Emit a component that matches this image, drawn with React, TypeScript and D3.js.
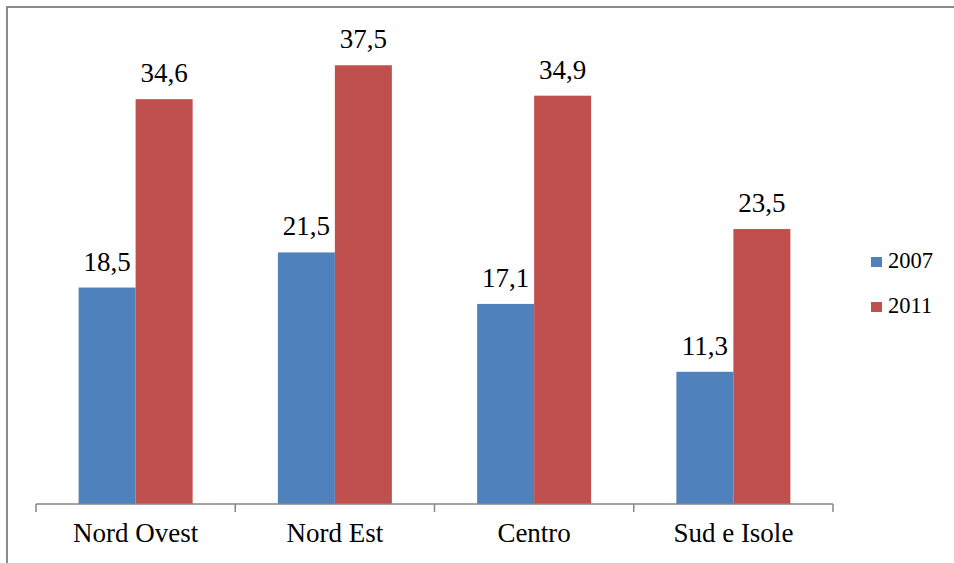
import React from 'react';
import * as d3 from 'd3';

const categories = ['Nord Ovest', 'Nord Est', 'Centro', 'Sud e Isole'];
const seriesNames = ['2007', '2011'];
const values2007 = [18.5, 21.5, 17.1, 11.3];
const values2011 = [34.6, 37.5, 34.9, 23.5];
const colors = ['#4F81BD', '#C0504D'];

const W = 954;
const H = 563;
const FONT = 'Liberation Serif';

const App: React.FC = () => {
  const plot = { left: 36, right: 833, top: 36, bottom: 504 };

  const x = d3.scaleBand<string>()
    .domain(categories)
    .range([plot.left, plot.right])
    .paddingInner(0)
    .paddingOuter(0);

  const barW = 57;
  const x1 = d3.scaleBand<string>()
    .domain(seriesNames)
    .range([x.bandwidth() / 2 - barW, x.bandwidth() / 2 + barW]);

  const y = d3.scaleLinear().domain([0, 40]).range([plot.bottom, plot.top]);

  const fmt = (v: number) => d3.format('.1f')(v).replace('.', ',');
  const series = [values2007, values2011];
  const ticks = [...categories.map(c => x(c) as number), plot.right];

  return (
    <div style={{ position: 'absolute', left: 0, top: 0 }}>
      <svg width={W} height={H} style={{ display: 'block' }}>
        <rect x={0} y={0} width={W} height={H} fill="#fff" />
        {/* outer frame, cropped on the right and bottom */}
        <rect x={7} y={7} width={W + 20} height={H + 20} fill="none" stroke="#8a8a8a" strokeWidth={2} />

        {categories.map((c, i) => (
          <g key={c} transform={`translate(${x(c)},0)`}>
            {series.map((vals, s) => (
              <g key={s}>
                <rect
                  x={x1(seriesNames[s])}
                  y={y(vals[i])}
                  width={x1.bandwidth()}
                  height={y(0) - y(vals[i])}
                  fill={colors[s]}
                />
                <text
                  x={(x1(seriesNames[s]) as number) + x1.bandwidth() / 2}
                  y={y(vals[i]) - 17}
                  textAnchor="middle"
                  fontFamily={FONT}
                  fontSize={27}
                  fill="#000"
                >
                  {fmt(vals[i])}
                </text>
              </g>
            ))}
            <text x={x.bandwidth() / 2} y={542} textAnchor="middle" fontFamily={FONT} fontSize={27} fill="#000">
              {c}
            </text>
          </g>
        ))}

        {/* category axis */}
        <line x1={plot.left} x2={plot.right} y1={plot.bottom} y2={plot.bottom} stroke="#868686" strokeWidth={1.5} />
        {ticks.map((t, i) => (
          <line key={i} x1={t} x2={t} y1={plot.bottom} y2={plot.bottom + 8} stroke="#868686" strokeWidth={1.5} />
        ))}

        {/* legend */}
        {seriesNames.map((n, i) => (
          <g key={n} transform={`translate(871,${257 + i * 45})`}>
            <rect x={0} y={0} width={11} height={10} fill={colors[i]} />
            <text x={17} y={11} fontFamily={FONT} fontSize={22.5} fill="#000">{n}</text>
          </g>
        ))}
      </svg>
    </div>
  );
};

export default App;
